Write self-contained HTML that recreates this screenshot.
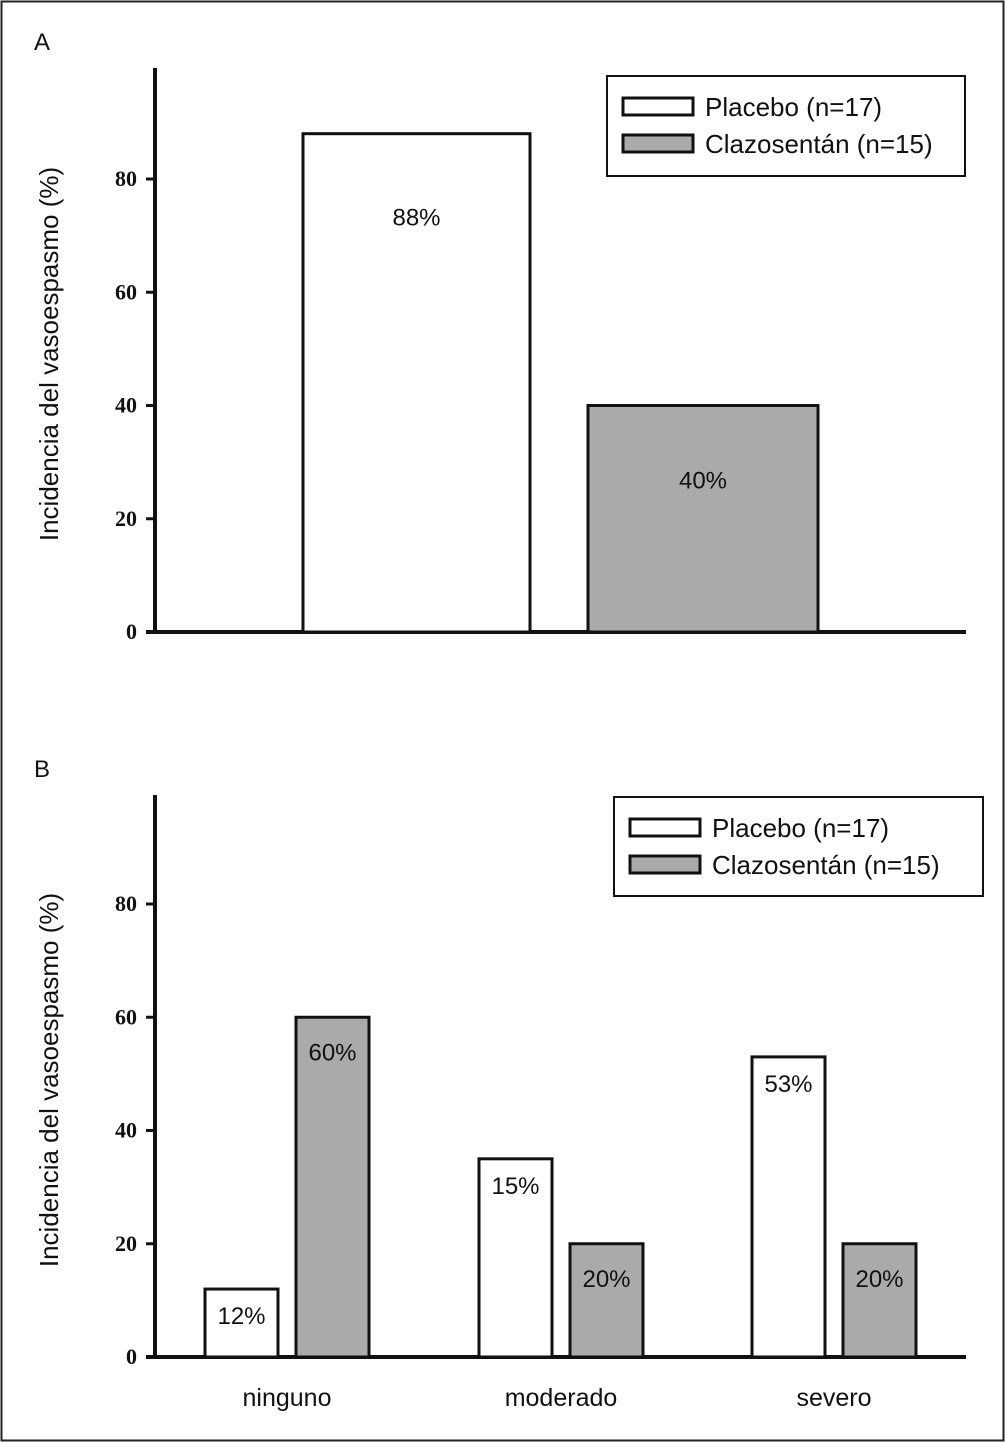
<!DOCTYPE html>
<html><head><meta charset="utf-8"><style>
html,body{margin:0;padding:0;background:#fff;}
svg{display:block;}
</style></head><body>
<svg id="chart" width="1005" height="1442" xmlns="http://www.w3.org/2000/svg">
<rect x="1.5" y="1.5" width="1002" height="1439" fill="#fff" stroke="#222" stroke-width="2"/>
</svg>
<script>
const tickValues=[0,20,40,60,80];
const aGroups=["Placebo (n=17)","Clazosentán (n=15)"];
const aValues=[88,40];
const aLabels=["88%","40%"];
const bCategories=["ninguno","moderado","severo"];
const bPlacebo=[12,35,53];
const bClazo=[60,20,20];
const bPlaceboLabels=["12%","15%","53%"];
const bClazoLabels=["60%","20%","20%"];

const NS="http://www.w3.org/2000/svg";
const svg=document.getElementById('chart');
function mk(tag,attrs,parent){const e=document.createElementNS(NS,tag);for(const k in attrs)e.setAttribute(k,attrs[k]);(parent||svg).appendChild(e);return e;}
function txt(s,attrs,parent){const e=mk('text',attrs,parent);e.textContent=s;return e;}
const PX=113.25/20;
const SANS='"Liberation Sans", sans-serif';

function panel(letter,base,top,name){
  const g=mk('g',{});
  
  
  const y=v=>base-v*PX;
  const lt=txt(letter,{x:34,y:top-18,'font-family':SANS,'font-size':24,fill:'#111'},g);
  
  
  const ax=mk('line',{x1:155,y1:top,x2:155,y2:base+2,stroke:'#111','stroke-width':4},g);
  
  
  const bl=mk('line',{x1:146,y1:base,x2:966,y2:base,stroke:'#111','stroke-width':4},g);
  
  
  tickValues.forEach(v=>{
    const t=mk('line',{x1:146,y1:y(v),x2:155,y2:y(v),stroke:'#111','stroke-width':3},g);
    
    
    const l=txt(String(v),{x:137,y:y(v)+7,'text-anchor':'end','font-family':'"Liberation Serif", serif','font-weight':'bold','font-size':22,fill:'#111'},g);
    
    
  });
  const cy=(top+base)/2+4;
  const yt=txt('Incidencia del vasoespasmo (%)',{x:0,y:0,transform:`translate(58,${cy}) rotate(-90)`,'text-anchor':'middle','font-family':SANS,'font-size':26,fill:'#111'},g);
  
  
  return {g,y};
}
function bar(g,x,w,v,y,base,fill,label,name,labelOffset){
  const r=mk('rect',{x:x,y:y(v),width:w,height:base-y(v),fill:fill,stroke:'#111','stroke-width':3},g);
  
  
  const t=txt(label,{x:x+w/2,y:y(v)+labelOffset,'text-anchor':'middle','font-family':SANS,'font-size':24,fill:'#111'},g);
  
  
}
function legend(g,x,y,w,h,name){
  const b=mk('rect',{x:x,y:y,width:w,height:h,fill:'#fff',stroke:'#111','stroke-width':2},g);
  
  
  const fills=['#fff','#aaa'];
  aGroups.forEach((s,i)=>{
    const yy=y+22+i*37;
    const sw=mk('rect',{x:x+16,y:yy,width:70,height:17,fill:fills[i],stroke:'#111','stroke-width':3},g);
    
    
    const t=txt(s,{x:x+98,y:yy+18,'font-family':SANS,'font-size':26,fill:'#111'},g);
    
    
  });
}
const A=panel('A',632,68,'panel-a');
const aX=[303,588],aW=[227,230];
aValues.forEach((v,i)=>bar(A.g,aX[i],aW[i],v,A.y,632,i?'#aaa':'#fff',aLabels[i],'bar-a-'+(i?'clazosentan':'placebo'),i?83:92));
legend(A.g,607,76,358,100,'legend-a');
const B=panel('B',1357,795,'panel-b');
const catX=[205,479,752];
bCategories.forEach((c,i)=>{
  bar(B.g,catX[i],73,bPlacebo[i],B.y,1357,'#fff',bPlaceboLabels[i],'bar-b-'+c+'-placebo',35);
  bar(B.g,catX[i]+91,73,bClazo[i],B.y,1357,'#aaa',bClazoLabels[i],'bar-b-'+c+'-clazosentan',43);
  const t=txt(c,{x:catX[i]+82,y:1406,'text-anchor':'middle','font-family':SANS,'font-size':25,fill:'#111'},B.g);
  
  
});
legend(B.g,614,797,369,99,'legend-b');
</script>
</body></html>
